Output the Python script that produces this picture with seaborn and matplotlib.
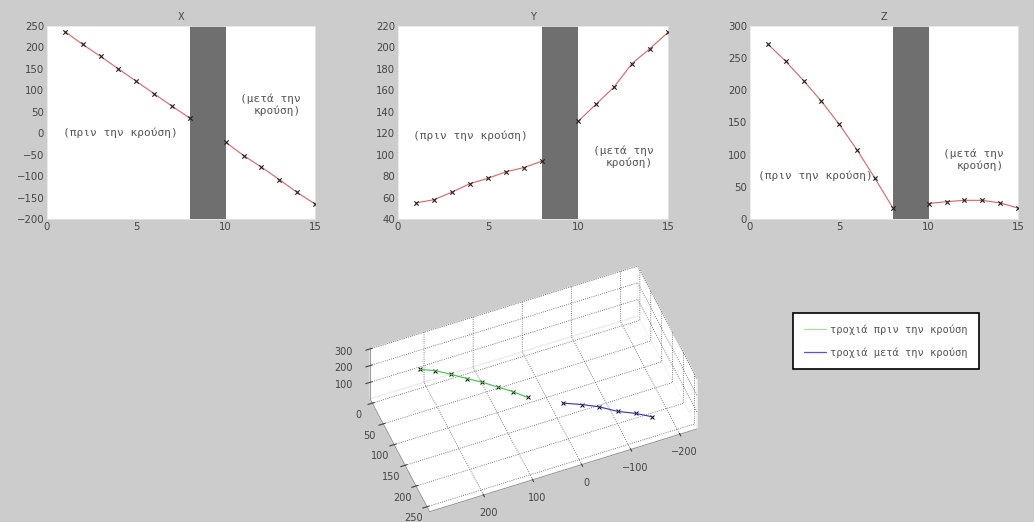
import matplotlib
matplotlib.use("Agg")
import matplotlib.pyplot as plt
import seaborn as sns
import pandas as pd
import numpy as np
from matplotlib.lines import Line2D

# ---- data ----
t_before = [1, 2, 3, 4, 5, 6, 7, 8]
t_after = [10, 11, 12, 13, 14, 15]
x_before = [237, 207, 179, 150, 121, 92, 63, 35]
x_after = [-21, -52, -79, -108, -138, -165]
y_before = [55, 58, 65, 73, 78, 84, 88, 94]
y_after = [131, 147, 163, 185, 199, 214]
z_before = [272, 245, 215, 183, 147, 107, 63, 17]
z_after = [24, 27, 29, 29, 25, 17]

titles = ["X", "Y", "Z"]
ylims = [(-200, 250), (40, 220), (0, 300)]
yticks = [list(range(-200, 251, 50)), list(range(40, 221, 20)), list(range(0, 301, 50))]
xticks = [0, 5, 10, 15]
label_before = "(πριν την κρούση)"
label_after = "(μετά την\nκρούση)"
before_pos = [(0.9, 0), (0.83, 118), (0.45, 68)]
after_pos = [(12.5, 67), (12.5, 98), (12.5, 92)]
legend_labels = ["τροχιά πριν την κρούση", "τροχιά μετά την κρούση"]

sns.set_style("white")
plt.rcParams["font.family"] = ["DejaVu Sans"]
BG = "#cccccc"

fig = plt.figure(figsize=(10.34, 5.22), dpi=100, facecolor=BG)

positions = [
    [47 / 1034, 1 - 219 / 522, 268 / 1034, 193 / 522],
    [398 / 1034, 1 - 219 / 522, 270 / 1034, 193 / 522],
    [750 / 1034, 1 - 219 / 522, 268 / 1034, 193 / 522],
]
series = [(x_before, x_after), (y_before, y_after), (z_before, z_after)]

for i in range(3):
    ax = fig.add_axes(positions[i])
    ax.set_facecolor("white")
    vb, va = series[i]
    dfb = pd.DataFrame({"t": t_before, "v": vb})
    dfa = pd.DataFrame({"t": t_after, "v": va})
    ax.axvspan(8, 10, color="#6f6f6f", zorder=1, lw=0)
    sns.lineplot(data=dfb, x="t", y="v", ax=ax, color="#e06060", lw=0.8, zorder=2)
    sns.lineplot(data=dfa, x="t", y="v", ax=ax, color="#e06060", lw=0.8, zorder=2)
    sns.scatterplot(data=dfb, x="t", y="v", ax=ax, marker="x", color="#222222", s=10, linewidth=0.8, zorder=3)
    sns.scatterplot(data=dfa, x="t", y="v", ax=ax, marker="x", color="#222222", s=10, linewidth=0.8, zorder=3)
    ax.set_xlim(0, 15)
    ax.set_ylim(*ylims[i])
    ax.set_xticks(xticks)
    ax.set_yticks(yticks[i])
    ax.set_xlabel("")
    ax.set_ylabel("")
    ax.tick_params(direction="in", length=3, width=0.5, labelsize=7.3, colors="#444444", pad=2)
    for s in ax.spines.values():
        s.set_color("#e6e6e6")
        s.set_linewidth(0.6)
    ax.set_title(titles[i], fontsize=7, color="#444444", pad=4)
    bx, by = before_pos[i]
    ax.text(bx, by, label_before, fontsize=8, family="DejaVu Sans Mono", color="#555555",
            ha="left", va="center", zorder=4)
    axx, ayy = after_pos[i]
    ax.text(axx, ayy, label_after, fontsize=8, family="DejaVu Sans Mono", color="#555555",
            ha="center", va="center", multialignment="right", zorder=4)

# ---- 3D trajectory ----
ax3 = fig.add_axes([310 / 1034, -3 / 522, 440 / 1034, 265 / 522], projection="3d", proj_type="ortho")
ax3.set_facecolor(BG)
ax3.plot(x_before, y_before, z_before, color="#40c040", lw=0.8)
ax3.plot(x_after, y_after, z_after, color="#3030c0", lw=0.8)
ax3.scatter(x_before + x_after, y_before + y_after, z_before + z_after, marker="x", color="black", s=8, linewidths=0.7, depthshade=False)
ax3.set_xlim(-235, 310)
ax3.set_ylim(-10, 262)
ax3.set_zlim(0, 300)
ax3.set_xticks([-200, -100, 0, 100, 200])
ax3.set_yticks([0, 50, 100, 150, 200, 250])
ax3.set_zticks([100, 200, 300])
ax3.view_init(elev=50, azim=68)
ax3.set_box_aspect((1, 0.55, 0.27), zoom=1.24)
for axis in (ax3.xaxis, ax3.yaxis, ax3.zaxis):
    axis.set_pane_color((1, 1, 1, 1))
    axis.pane.set_edgecolor("#eeeeee")
    axis._axinfo["grid"].update(color="#555555", linestyle=":", linewidth=0.6)
    axis.line.set_color("#888888")
    axis.line.set_linewidth(0.6)
ax3.tick_params(labelsize=7, colors="#444444", pad=0)
ax3.yaxis.set_tick_params(pad=-3)

handles = [Line2D([], [], color="#a0e0a0", lw=0.9), Line2D([], [], color="#5050f0", lw=0.9)]
leg = fig.legend(handles, legend_labels, loc="upper left", bbox_to_anchor=(793 / 1034, 1 - 313 / 522),
                 prop={"family": "DejaVu Sans Mono", "size": 7.5}, frameon=True, fancybox=False,
                 edgecolor="black", facecolor="white", framealpha=1, handlelength=2.1,
                 handletextpad=0.4, borderpad=1.1, labelspacing=1.2, borderaxespad=0)
leg.get_frame().set_linewidth(1.2)
for txt in leg.get_texts():
    txt.set_color("#555555")

fig.savefig("out.png", dpi=100, facecolor=BG)
